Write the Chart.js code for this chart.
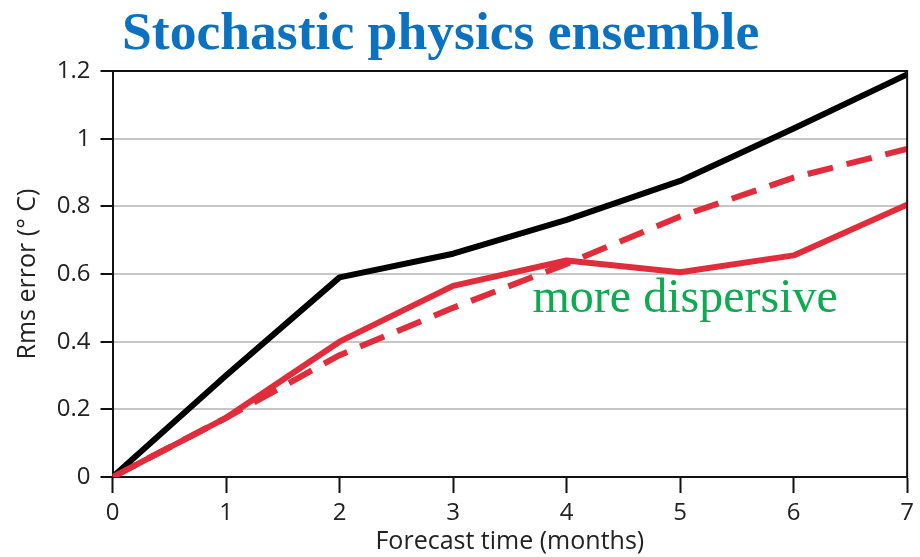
<!DOCTYPE html>
<html>
<head>
<meta charset="utf-8">
<script src="https://cdn.jsdelivr.net/npm/chart.js@4.4.1/dist/chart.umd.min.js"></script>
<style>
  html, body { margin: 0; padding: 0; background: #ffffff; }
  #wrap { width: 920px; height: 557px; }
</style>
</head>
<body>
<div id="wrap"><canvas id="c" width="920" height="557"></canvas></div>
<script>
// Forecast lead time, months
const months = [0, 1, 2, 3, 4, 5, 6, 7];
// RMS error of the ensemble mean (°C)
const rmsControl    = [0, 0.30, 0.59, 0.66, 0.76, 0.875, 1.03, 1.19];
const rmsStochastic = [0, 0.175, 0.40, 0.565, 0.64, 0.605, 0.655, 0.805];
// Ensemble spread
const spreadStochastic = [0, 0.175, 0.36, 0.50, 0.63, 0.77, 0.885, 0.97];
const yTicks = [0, 0.2, 0.4, 0.6, 0.8, 1, 1.2];

const titleText = 'Stochastic physics ensemble';
const noteText = 'more dispersive';
const notePos = { x: 3.7, y: 0.487 };

const pts = (ys) => months.map((m, i) => ({ x: m, y: ys[i] }));

const RED = '#e12c3b';
const AXIS_FONT = '"Open Sans", "DejaVu Sans", sans-serif';

// Heading and in-plot annotation, plus the closing frame of the plot box
const decorations = {
  id: 'decorations',
  afterDatasetsDraw(chart) {
    const { ctx, chartArea: a, scales } = chart;
    ctx.save();
    ctx.strokeStyle = '#111';
    ctx.lineWidth = 2;
    ctx.beginPath();
    ctx.moveTo(a.left, a.top);
    ctx.lineTo(a.right, a.top);
    ctx.lineTo(a.right, a.bottom);
    ctx.stroke();

    ctx.fillStyle = '#0a72c0';
    ctx.font = 'bold 53.6px "Liberation Serif", "Times New Roman", serif';
    ctx.textBaseline = 'alphabetic';
    ctx.textAlign = 'left';
    ctx.fillText(titleText, 122, 49);

    ctx.fillStyle = '#0daa50';
    ctx.font = '48px "Liberation Serif", "Times New Roman", serif';
    ctx.fillText(noteText, scales.x.getPixelForValue(notePos.x), scales.y.getPixelForValue(notePos.y));
    ctx.restore();
  }
};

new Chart(document.getElementById('c'), {
  type: 'line',
  data: {
    datasets: [
      {
        label: 'Stochastic physics RMS error',
        data: pts(rmsStochastic),
        borderColor: RED,
        borderWidth: 6,
        order: 1
      },
      {
        label: 'Control RMS error',
        data: pts(rmsControl),
        borderColor: '#000000',
        borderWidth: 6,
        order: 2
      },
      {
        label: 'Stochastic physics spread',
        data: pts(spreadStochastic),
        borderColor: RED,
        borderWidth: 6,
        borderDash: [26, 14],
        order: 3
      }
    ]
  },
  options: {
    responsive: false,
    animation: false,
    layout: { padding: { top: 71, right: 9, left: 0, bottom: 0 } },
    elements: {
      point: { radius: 0 },
      line: { tension: 0, fill: false, borderJoinStyle: 'round', borderCapStyle: 'butt' }
    },
    plugins: {
      legend: { display: false },
      tooltip: { enabled: false }
    },
    scales: {
      x: {
        type: 'linear',
        min: 0,
        max: 7,
        afterFit: (s) => { s.height = 80; },
        ticks: {
          stepSize: 1,
          color: '#222',
          padding: 6,
          font: { family: AXIS_FONT, size: 24 }
        },
        grid: {
          drawOnChartArea: false,
          drawTicks: true,
          tickLength: 16,
          tickColor: '#111',
          tickWidth: 2
        },
        border: { color: '#111', width: 2 },
        title: {
          display: true,
          text: 'Forecast time (months)',
          color: '#222',
          padding: { top: 0, bottom: 0 },
          font: { family: AXIS_FONT, size: 25 }
        }
      },
      y: {
        type: 'linear',
        min: 0,
        max: 1.2,
        afterFit: (s) => { s.width = 112.5; },
        afterBuildTicks: (s) => { s.ticks = yTicks.map(v => ({ value: v })); },
        ticks: {
          color: '#222',
          padding: 10,
          font: { family: AXIS_FONT, size: 24 },
          callback: (v) => String(Math.round(v * 10) / 10)
        },
        grid: {
          color: '#c6c6c6',
          lineWidth: 2,
          drawTicks: true,
          tickLength: 12,
          tickColor: '#111',
          tickWidth: 2
        },
        border: { color: '#111', width: 2 },
        title: {
          display: true,
          text: 'Rms error (° C)',
          color: '#222',
          padding: { top: 13, bottom: 0 },
          font: { family: AXIS_FONT, size: 25 }
        }
      }
    }
  },
  plugins: [decorations]
});
</script>
</body>
</html>
